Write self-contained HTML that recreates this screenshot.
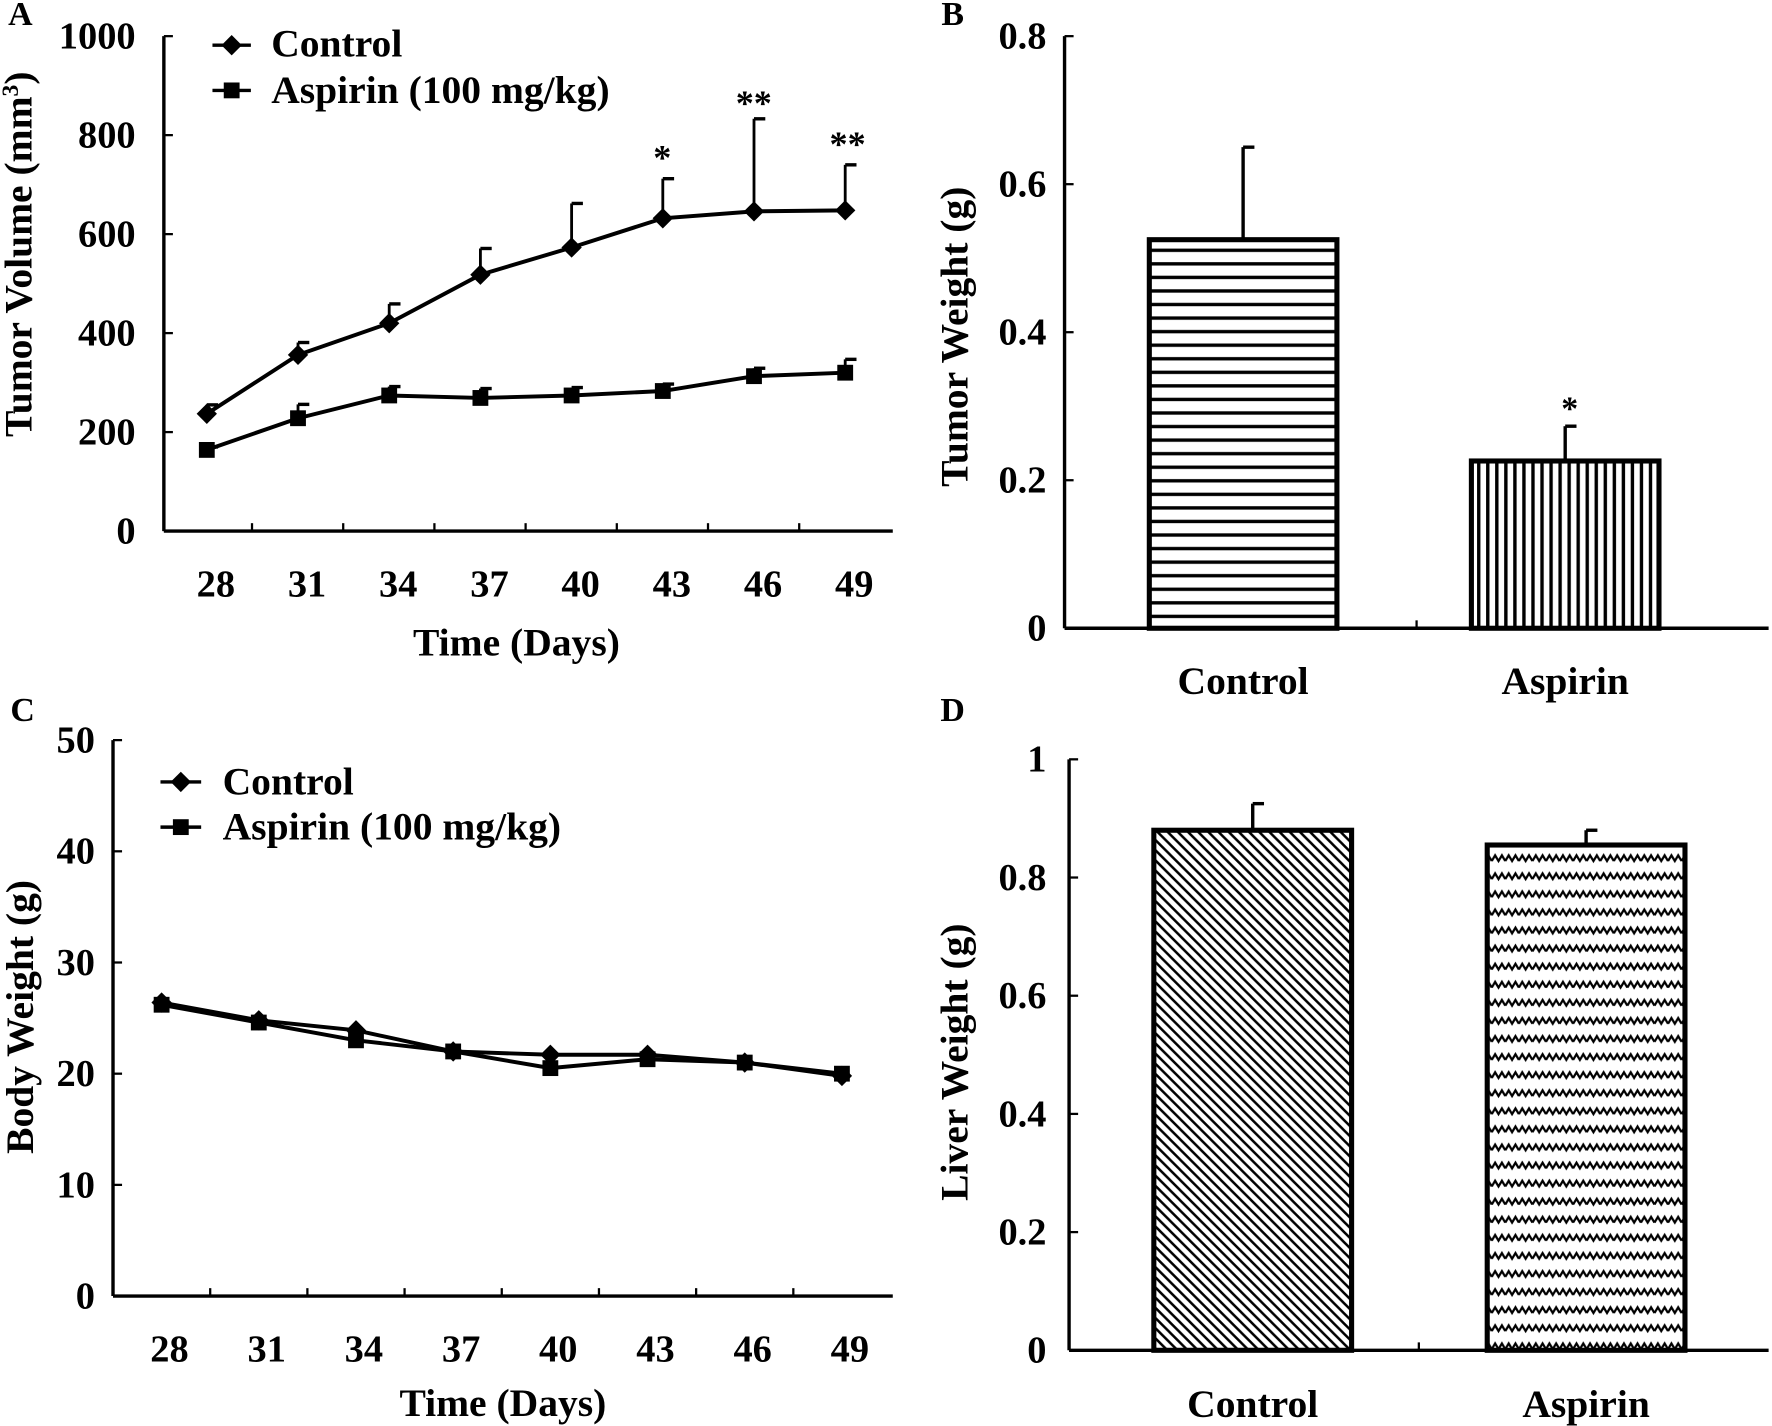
<!DOCTYPE html>
<html><head><meta charset="utf-8"><style>
html,body{margin:0;padding:0;background:#fff;}
svg{display:block;}
text{font-family:"Liberation Serif",serif;font-weight:bold;fill:#000;}
</style></head><body>
<svg id="fig" width="1772" height="1426" viewBox="0 0 1568 1262" preserveAspectRatio="none" xmlns="http://www.w3.org/2000/svg">
<defs>
<pattern id="hstripe" width="10" height="12" patternUnits="userSpaceOnUse"><rect width="10" height="12" fill="#fff"/><rect y="4" width="10" height="3" fill="#000"/></pattern>
<pattern id="vstripe" width="8" height="10" patternUnits="userSpaceOnUse"><rect width="8" height="10" fill="#fff"/><rect x="3" width="3" height="10" fill="#000"/></pattern>
<pattern id="diag" width="9" height="9" patternUnits="userSpaceOnUse"><rect width="9" height="9" fill="#fff"/><path d="M-2,-2 L11,11 M-2,7 L2,11 M7,-2 L11,2" stroke="#000" stroke-width="2.2"/></pattern>
<pattern id="wave" width="12" height="16" patternUnits="userSpaceOnUse"><rect width="12" height="16" fill="#fff"/><path d="M0,10 L3,5 L6,10 L9,5 L12,10" stroke="#000" stroke-width="2" fill="none"/></pattern>
</defs>
<g id="root"></g>
</svg>
<script>
// Panel A data
const daysA = [28,31,34,37,40,43,46,49];
const ctrlVolA = [237,356,420,518,573,632,646,648];
const ctrlErrA = [255,381,459,571,662,712,833,740];
const aspVolA = [164,228,274,269,274,283,313,320];
const aspErrA = [170,256,292,288,290,297,329,347];
const yTicksA = [0,200,400,600,800,1000];
// Panel B data
const catsB = ["Control","Aspirin"];
const valsB = [0.525,0.226];
const errB = [0.65,0.273];
const yTicksB = [0,0.2,0.4,0.6,0.8];
// Panel C data
const daysC = [28,31,34,37,40,43,46,49];
const ctrlBW = [26.4,24.8,23.9,22.0,21.7,21.7,21.0,19.8];
const aspBW = [26.2,24.6,23.0,22.0,20.5,21.3,21.0,20.0];
const yTicksC = [0,10,20,30,40,50];
// Panel D data
const catsD = ["Control","Aspirin"];
const valsD = [0.88,0.855];
const errD = [0.925,0.88];
const yTicksD = [0,0.2,0.4,0.6,0.8,1];

const NS="http://www.w3.org/2000/svg";
const root=document.getElementById('root');
function el(tag,attrs,txt){const e=document.createElementNS(NS,tag);for(const k in attrs)e.setAttribute(k,attrs[k]);if(txt!==undefined)e.textContent=txt;root.appendChild(e);return e;}
function line(x1,y1,x2,y2,w){return el('line',{x1,y1,x2,y2,stroke:'#000','stroke-width':w||3});}
function txt(x,y,s,size,anchor,rot){const a={x,y,'font-size':size||34,'text-anchor':anchor||'middle'};if(rot)a.transform='rotate(-90 '+x+' '+y+')';return el('text',a,s);}
function diamond(x,y,r){return el('path',{d:`M${x},${y-r} L${x+r},${y} L${x},${y+r} L${x-r},${y} Z`,fill:'#000'});}
function square(x,y,r){return el('rect',{x:x-r,y:y-r,width:2*r,height:2*r,fill:'#000'});}

// ---------- Panel A ----------
(function(){
const x0=145,x1=790,yb=470,yt=32;
const ya=v=>yb-(v/1000)*(yb-yt);
const xa=d=>183+(d-28)/3*80.7;
let e;
txt(18,22,'A',30);
e=line(x0,yt,x0,yb);
e=line(x0,yb,x1,yb);
yTicksA.forEach(v=>{line(x0,ya(v),x0+8,ya(v),2);e=txt(120,ya(v)+11,String(v),34,'end');});
daysA.forEach((d,i)=>{if(i<daysA.length-1)line(xa(d)+40,yb,xa(d)+40,yb-7,2);e=txt(xa(d)+8,528,String(d),34);});
e=txt(457,580,'Time (Days)',35);
e=el('text',{x:28,y:225,'font-size':35,'text-anchor':'middle',transform:'rotate(-90 28 225)'});
e.innerHTML='Tumor Volume (mm<tspan dy="-12" font-size="21">3</tspan><tspan dy="12">)</tspan>';

[[ctrlVolA,ctrlErrA,'control',diamond,9],[aspVolA,aspErrA,'aspirin',square,7]].forEach(([vals,errs,nm,mk,r])=>{
 vals.forEach((v,i)=>{const x=xa(daysA[i]);line(x,ya(v),x,ya(errs[i]),2.5);line(x,ya(errs[i]),x+10,ya(errs[i]),3);});
 e=el('polyline',{points:vals.map((v,i)=>xa(daysA[i])+','+ya(v)).join(' '),fill:'none',stroke:'#000','stroke-width':3.5});
 
 vals.forEach((v,i)=>{e=mk(xa(daysA[i]),ya(v),r);});
});
txt(586,150,'*',32);txt(667,102,'**',32);txt(750,138,'**',32);
line(188,40,222,40,3);diamond(205,40,9);e=txt(240,50,'Control',35,'start');
line(188,80,222,80,3);square(205,80,7);e=txt(240,91,'Aspirin (100 mg/kg)',35,'start');
})();

// ---------- Panel B / D bars ----------
function barPanel(p){
 const {x0,x1,yb,yt,ymax,ticks,cats,vals,errs,fills,bx,bw,label,ytitle,ytx,yty,tag,catY,star,fmt}=p;
 const ya=v=>yb-(v/ymax)*(yb-yt);let e;
 txt(843,p.lY,label,30);
 e=line(x0,yt,x0,yb);
 e=line(x0,yb,x1,yb);
 line((x0+x1)/2,yb,(x0+x1)/2,yb-7,2);
 ticks.forEach(v=>{line(x0,ya(v),x0+8,ya(v),2);e=txt(926,ya(v)+11,fmt(v),34,'end');});
 e=txt(ytx,yty,ytitle,35,'middle',true);
 cats.forEach((c,i)=>{
  const x=bx[i],cx=x+bw/2;
  line(cx,ya(vals[i]),cx,ya(errs[i]),3);line(cx,ya(errs[i]),cx+10,ya(errs[i]),3);
  e=el('rect',{x,y:ya(vals[i]),width:bw,height:yb-ya(vals[i]),fill:'url(#'+fills[i]+')',stroke:'#000','stroke-width':4.5});
  
  e=txt(cx,catY,c,35);
  if(star&&star[i])txt(cx+4,ya(errs[i])-6,star[i],30);
 });
}
barPanel({x0:942,x1:1565,yb:556,yt:32,ymax:0.8,ticks:yTicksB,cats:catsB,vals:valsB,errs:errB,fills:['hstripe','vstripe'],bx:[1017,1302],bw:166,lY:22,label:'B',ytitle:'Tumor Weight (g)',ytx:856,yty:298,tag:'b',catY:614,star:['','*'],fmt:v=>v===0?'0':v.toFixed(1)});
barPanel({x0:946,x1:1565,yb:1195,yt:672,ymax:1,ticks:yTicksD,cats:catsD,vals:valsD,errs:errD,fills:['diag','wave'],bx:[1021,1316],bw:175,lY:638,label:'D',ytitle:'Liver Weight (g)',ytx:856,yty:940,tag:'d',catY:1254,star:null,fmt:v=>(v===0||v===1)?String(v):v.toFixed(1)});

// ---------- Panel C ----------
(function(){
const x0=100,x1=790,yb=1147,yt=655;
const ya=v=>yb-(v/50)*(yb-yt);
const xa=d=>143+(d-28)/3*86;
let e;
txt(20,638,'C',30);
e=line(x0,yt,x0,yb);
e=line(x0,yb,x1,yb);
yTicksC.forEach(v=>{line(x0,ya(v),x0+8,ya(v),2);e=txt(84,ya(v)+11,String(v),34,'end');});
daysC.forEach((d,i)=>{if(i<daysC.length-1)line(xa(d)+43,yb,xa(d)+43,yb-7,2);e=txt(xa(d)+7,1205,String(d),34);});
e=txt(445,1253,'Time (Days)',35);
e=txt(29,900,'Body Weight (g)',35,'middle',true);
[[ctrlBW,'control',diamond,9],[aspBW,'aspirin',square,7]].forEach(([vals,nm,mk,r])=>{
 e=el('polyline',{points:vals.map((v,i)=>xa(daysC[i])+','+ya(v)).join(' '),fill:'none',stroke:'#000','stroke-width':3.5});
 
 vals.forEach((v,i)=>{e=mk(xa(daysC[i]),ya(v),r);});
});
line(142,692,178,692,3);diamond(160,692,9);e=txt(197,703,'Control',35,'start');
line(142,732,178,732,3);square(160,732,7);e=txt(197,743,'Aspirin (100 mg/kg)',35,'start');
})();
</script>
</body></html>
